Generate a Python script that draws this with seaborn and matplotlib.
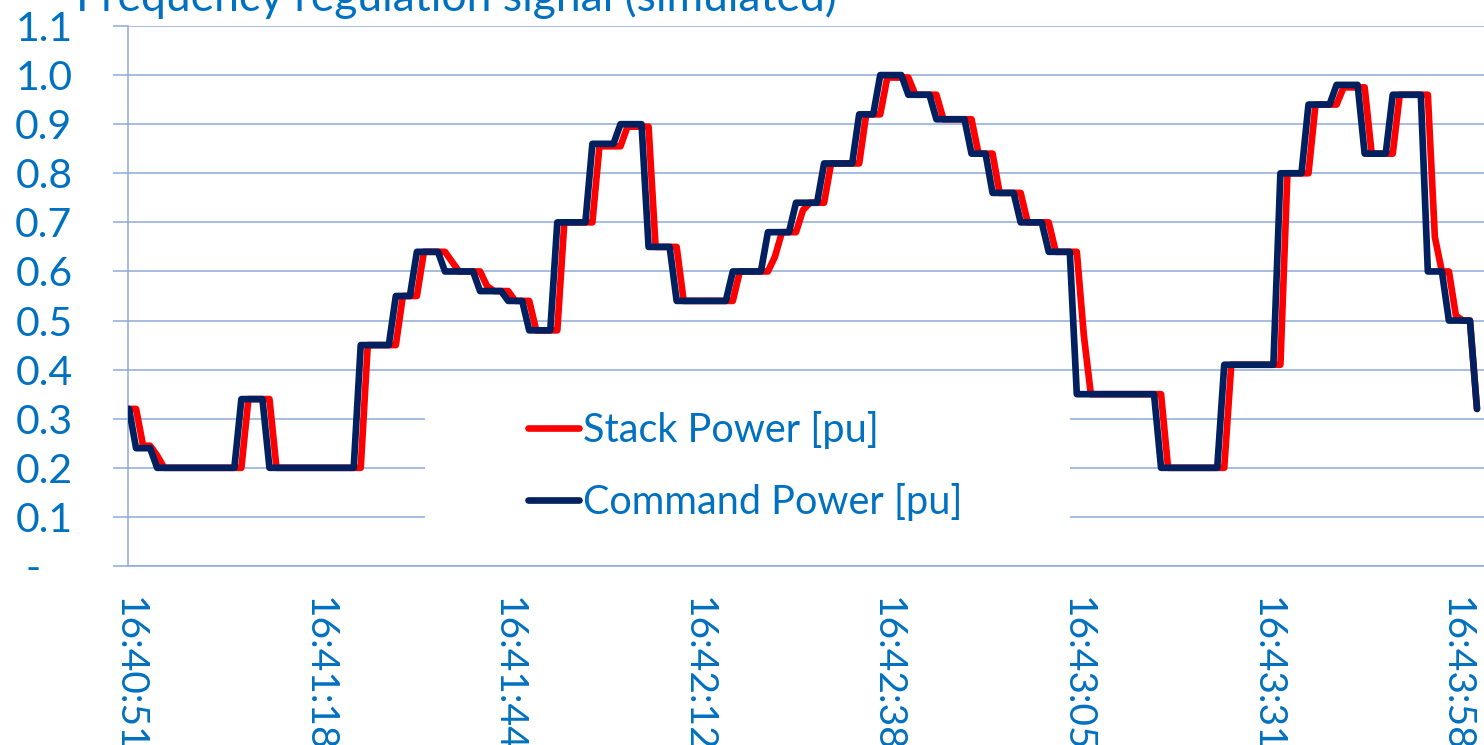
import matplotlib
matplotlib.use('Agg')
import matplotlib.pyplot as plt
from matplotlib.patches import Rectangle
import seaborn as sns
import pandas as pd
import numpy as np

# command power: step levels and how many samples each level lasts
cmd_levels = [0.32, 0.24, 0.20, 0.34, 0.20, 0.45, 0.55, 0.64, 0.60, 0.56, 0.54, 0.48,
              0.70, 0.86, 0.90, 0.65, 0.54, 0.60, 0.68, 0.74, 0.82, 0.92, 1.00, 0.96,
              0.91, 0.84, 0.76, 0.70, 0.64, 0.35, 0.20, 0.41, 0.80, 0.94, 0.98, 0.84,
              0.96, 0.60, 0.50, 0.32]
cmd_counts = [1, 3, 12, 4, 13, 5, 3, 4, 5, 4, 3, 4,
              5, 4, 4, 4, 8, 5, 4, 4, 5, 3, 4, 4,
              5, 3, 4, 4, 4, 12, 9, 8, 4, 4, 4, 4,
              5, 3, 4, 1]

# stack power: follows the command about one sample later
stack_levels = [0.32, 0.245, 0.225, 0.20, 0.34, 0.20, 0.45, 0.55, 0.64, 0.62, 0.60, 0.57,
                0.56, 0.54, 0.48, 0.70, 0.855, 0.895, 0.65, 0.54, 0.60, 0.63, 0.68, 0.725,
                0.74, 0.82, 0.92, 0.995, 0.96, 0.91, 0.84, 0.76, 0.70, 0.64, 0.47, 0.35,
                0.20, 0.41, 0.80, 0.94, 0.975, 0.84, 0.96, 0.67, 0.60, 0.51, 0.50, 0.32]
stack_counts = [2, 2, 1, 12, 4, 13, 5, 3, 4, 1, 4, 1,
                3, 3, 4, 5, 4, 4, 4, 8, 5, 1, 3, 1,
                3, 5, 3, 4, 4, 5, 3, 4, 4, 4, 1, 11,
                9, 8, 4, 4, 4, 4, 5, 1, 2, 1, 2, 1]

time_labels = ['16:40:51', '16:41:18', '16:41:44', '16:42:12',
               '16:42:38', '16:43:05', '16:43:31', '16:43:58']
time_samples = [0, 27, 54, 81, 108, 135, 162, 189]

y_ticks = [0.0, 0.1, 0.2, 0.3, 0.4, 0.5, 0.6, 0.7, 0.8, 0.9, 1.0, 1.1]
y_labels = ['-   ', '0.1', '0.2', '0.3', '0.4', '0.5', '0.6', '0.7', '0.8', '0.9', '1.0', '1.1']

command = np.repeat(cmd_levels, cmd_counts)
stack = np.repeat(stack_levels, stack_counts)

df = pd.DataFrame({'sample': np.arange(len(command)),
                   'Stack Power [pu]': stack,
                   'Command Power [pu]': command})
df = df.melt(id_vars='sample', var_name='series', value_name='pu')

sns.set_style('white')
plt.rcParams['font.family'] = ['Lato', 'DejaVu Sans']

txt_color = '#0070C0'
grid_color = '#8EA9DB'

fig = plt.figure(figsize=(14.84, 7.45), dpi=100)
ax = fig.add_axes([128 / 1484, (745 - 566) / 745, (1484 - 128) / 1484, 540 / 745])

sns.lineplot(data=df, x='sample', y='pu', hue='series',
             palette={'Stack Power [pu]': '#FF0000', 'Command Power [pu]': '#002060'},
             linewidth=4.8, solid_joinstyle='round', solid_capstyle='round', ax=ax, zorder=3)

ax.set_xlim(-0.15, 193.0)
ax.set_ylim(0, 1.1)
ax.set_yticks(y_ticks)
ax.set_yticklabels(y_labels)
ax.set_xticks(time_samples)
ax.set_xticklabels(time_labels, rotation=-90)
ax.set_xlabel('')
ax.set_ylabel('')

ax.grid(axis='y', color=grid_color, linewidth=1.1)
ax.set_axisbelow(True)
for s in ['top', 'right']:
    ax.spines[s].set_visible(False)
for s in ['left', 'bottom']:
    ax.spines[s].set_color(grid_color)
    ax.spines[s].set_linewidth(1.1)

ax.tick_params(axis='y', left=True, length=11, width=1.1, color=grid_color, pad=29,
               labelsize=29.5, labelcolor=txt_color)
ax.tick_params(axis='x', bottom=False, length=0, pad=22, labelsize=28, labelcolor=txt_color)

# white area behind the legend, covering the gridlines
ax.add_patch(Rectangle((0.219, 0.067), 0.476, 0.277, transform=ax.transAxes,
                       facecolor='white', edgecolor='none', zorder=1))

handles, labels = ax.get_legend_handles_labels()
ax.legend(handles, labels, loc='center left', bbox_to_anchor=((528 - 128) / 1356, 0.185),
          frameon=False, fontsize=28.5, labelcolor=txt_color, handlelength=1.3,
          handletextpad=0.1, borderpad=0, borderaxespad=0, labelspacing=0.85)

fig.text(76 / 1484, (745 - 11) / 745, 'Frequency regulation signal (simulated)',
         fontsize=32, color=txt_color, va='baseline', ha='left')

fig.savefig('out.png', dpi=100)
